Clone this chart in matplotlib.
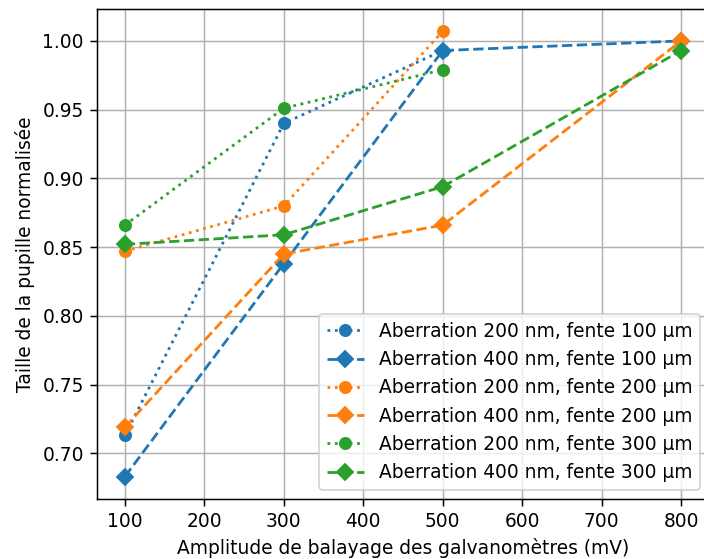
import matplotlib
matplotlib.use("Agg")
import matplotlib.pyplot as plt

# amplitude (mV)
x_three = [100, 300, 500]
x_four = [100, 300, 500, 800]

# taille de pupille normalisee
ab200_f100 = [0.713, 0.940, 0.993]
ab400_f100 = [0.683, 0.838, 0.993, 1.000]
ab200_f200 = [0.847, 0.880, 1.007]
ab400_f200 = [0.719, 0.845, 0.866, 1.000]
ab200_f300 = [0.866, 0.951, 0.979]
ab400_f300 = [0.852, 0.859, 0.894, 0.993]

labels = [
    "Aberration 200 nm, fente 100 µm",
    "Aberration 400 nm, fente 100 µm",
    "Aberration 200 nm, fente 200 µm",
    "Aberration 400 nm, fente 200 µm",
    "Aberration 200 nm, fente 300 µm",
    "Aberration 400 nm, fente 300 µm",
]

DPI = 134
fig = plt.figure(figsize=(704 / DPI, 559 / DPI), dpi=DPI)
# the reference is cropped on the right: the axes run past the image edge
ax = fig.add_axes([97 / 704, 1 - 499 / 559, (709 - 97) / 704, (499 - 9) / 559])

colors = ["C0", "C1", "C2"]
pairs = [(ab200_f100, ab400_f100), (ab200_f200, ab400_f200), (ab200_f300, ab400_f300)]
i = 0
for c, (dot, dash) in zip(colors, pairs):
    ax.plot(x_three, dot, linestyle=":", marker="o", color=c, label=labels[i])
    ax.plot(x_four, dash, linestyle="--", marker="D", color=c, label=labels[i + 1])
    i += 2

ax.set_xlabel("Amplitude de balayage des galvanomètres (mV)")
ax.set_ylabel("Taille de la pupille normalisée")
ax.grid(True)
ax.legend(loc="lower right")

fig.savefig("out.png", dpi=DPI)
